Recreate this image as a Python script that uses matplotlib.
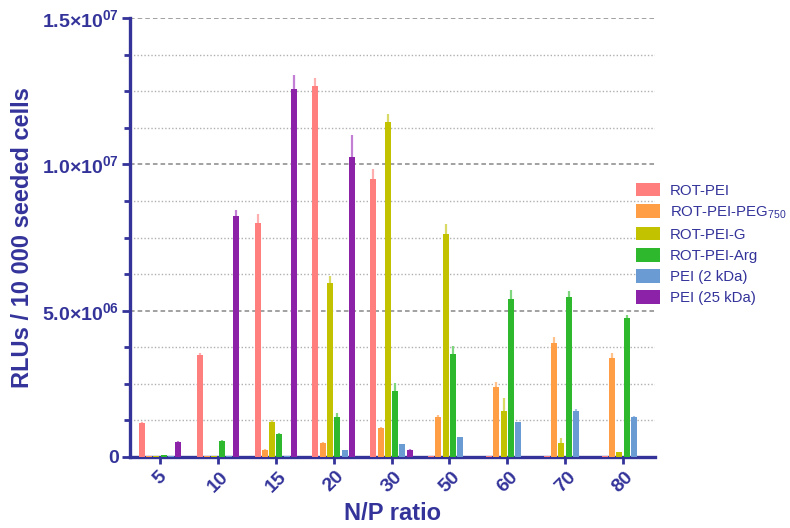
import numpy as np
import matplotlib
matplotlib.use("Agg")
import matplotlib.pyplot as plt
from matplotlib.patches import Patch
from matplotlib.ticker import MultipleLocator

plt.rcParams['font.family'] = ['Liberation Sans', 'DejaVu Sans']
plt.rcParams['mathtext.fontset'] = 'custom'
plt.rcParams['mathtext.rm'] = 'Liberation Sans'
plt.rcParams['mathtext.bf'] = 'Liberation Sans:bold'

categories = ['5', '10', '15', '20', '30', '50', '60', '70', '80']
series_names = ['ROT-PEI', 'ROT-PEI-PEG$_{750}$', 'ROT-PEI-G', 'ROT-PEI-Arg', 'PEI (2 kDa)', 'PEI (25 kDa)']

# values in units of 1e6 RLU
rot_pei     = [1.16, 3.48, 8.00, 12.69, 9.50, 0.03, 0.02, 0.03, 0.02]
rot_pei_peg = [0.02, 0.02, 0.24, 0.49, 0.98, 1.38, 2.40, 3.88, 3.37]
rot_pei_g   = [0.02, 0.02, 1.18, 5.94, 11.46, 7.62, 1.58, 0.47, 0.16]
rot_pei_arg = [0.08, 0.56, 0.77, 1.38, 2.25, 3.51, 5.40, 5.47, 4.76]
pei_2kda    = [0.05, 0.02, 0.05, 0.23, 0.43, 0.67, 1.18, 1.57, 1.36]
pei_25kda   = [0.52, 8.23, 12.57, 10.26, 0.23, 0.00, 0.00, 0.00, 0.00]

rot_pei_err     = [0.03, 0.08, 0.30, 0.25, 0.34, 0.0, 0.0, 0.0, 0.0]
rot_pei_peg_err = [0.0, 0.0, 0.02, 0.03, 0.05, 0.04, 0.17, 0.23, 0.17]
rot_pei_g_err   = [0.0, 0.0, 0.07, 0.26, 0.28, 0.36, 0.42, 0.17, 0.02]
rot_pei_arg_err = [0.0, 0.02, 0.04, 0.12, 0.27, 0.28, 0.30, 0.20, 0.11]
pei_2kda_err    = [0.0, 0.0, 0.0, 0.02, 0.03, 0.02, 0.03, 0.08, 0.03]
pei_25kda_err   = [0.03, 0.22, 0.48, 0.74, 0.03, 0.0, 0.0, 0.0, 0.0]

y_ticks = [0, 5e6, 1e7, 1.5e7]
y_tick_labels = ['0', r'$\mathbf{5.0{\times}10^{06}}$', r'$\mathbf{1.0{\times}10^{07}}$', r'$\mathbf{1.5{\times}10^{07}}$']

colors = ['#FF7F7F', '#FF9E45', '#C2C200', '#2DB82D', '#6A9BD3', '#8C22A8']
err_colors = ['#FFAFAF', '#FFC28A', '#D9D966', '#7FD67F', '#A6C3E6', '#C27FD4']
axis_color = '#33339A'

values = [rot_pei, rot_pei_peg, rot_pei_g, rot_pei_arg, pei_2kda, pei_25kda]
errors = [rot_pei_err, rot_pei_peg_err, rot_pei_g_err, rot_pei_arg_err, pei_2kda_err, pei_25kda_err]

fig = plt.figure(figsize=(7.9, 5.28), dpi=100)
ax = fig.add_axes([0.1646, 0.1345, 0.665, 0.831])

x = np.arange(len(categories))
step = 0.126
width = 0.104
for i, (vals, errs) in enumerate(zip(values, errors)):
    v = np.array(vals) * 1e6
    e = np.array(errs) * 1e6
    pos = x + (i - 2.5) * step
    ax.bar(pos, v, width=width, color=colors[i], zorder=3)
    ax.vlines(pos, v, v + e, color=err_colors[i], lw=1.6, zorder=2)

ax.set_xlim(-0.52, 8.56)
ax.set_ylim(0, 1.5e7)
ax.set_yticks(y_ticks)
ax.set_yticklabels(y_tick_labels)
ax.yaxis.set_minor_locator(MultipleLocator(1.25e6))
ax.set_xticks(x)
ax.set_xticklabels(categories, rotation=45, ha='center', va='top', rotation_mode='default')

for t in ax.get_yticklabels():
    t.set_fontsize(14)
    t.set_fontweight('bold')
    t.set_color(axis_color)
for t in ax.get_xticklabels():
    t.set_fontsize(14)
    t.set_fontweight('bold')
    t.set_color(axis_color)

ax.grid(axis='y', which='major', linestyle=(0, (3, 2)), color='#888888', lw=1.1, zorder=0)
ax.grid(axis='y', which='minor', linestyle=(0, (1, 1.5)), color='#B0B0B0', lw=1.0, zorder=0)
ax.set_axisbelow(True)

for s in ['top', 'right']:
    ax.spines[s].set_visible(False)
for s in ['left', 'bottom']:
    ax.spines[s].set_color(axis_color)
    ax.spines[s].set_linewidth(2.4)

ax.tick_params(axis='y', which='major', length=6, width=2, color=axis_color, pad=2)
ax.tick_params(axis='y', which='minor', length=4, width=2, color=axis_color)
ax.tick_params(axis='x', which='major', length=5, width=2, color=axis_color, pad=3)

ax.set_ylabel('RLUs / 10 000 seeded cells', fontsize=17, fontweight='bold', color=axis_color, labelpad=6)
ax.set_xlabel('N/P ratio', fontsize=17, fontweight='bold', color=axis_color, labelpad=5)

handles = [Patch(facecolor=c, edgecolor='none') for c in colors]
leg = fig.legend(handles, series_names, loc='upper left', bbox_to_anchor=(0.797, 0.665),
                 frameon=False, fontsize=10.8, handlelength=1.6, handleheight=1.0,
                 labelspacing=0.42, handletextpad=0.7, borderaxespad=0)
for t in leg.get_texts():
    t.set_color(axis_color)

fig.savefig('out.png', dpi=100)
